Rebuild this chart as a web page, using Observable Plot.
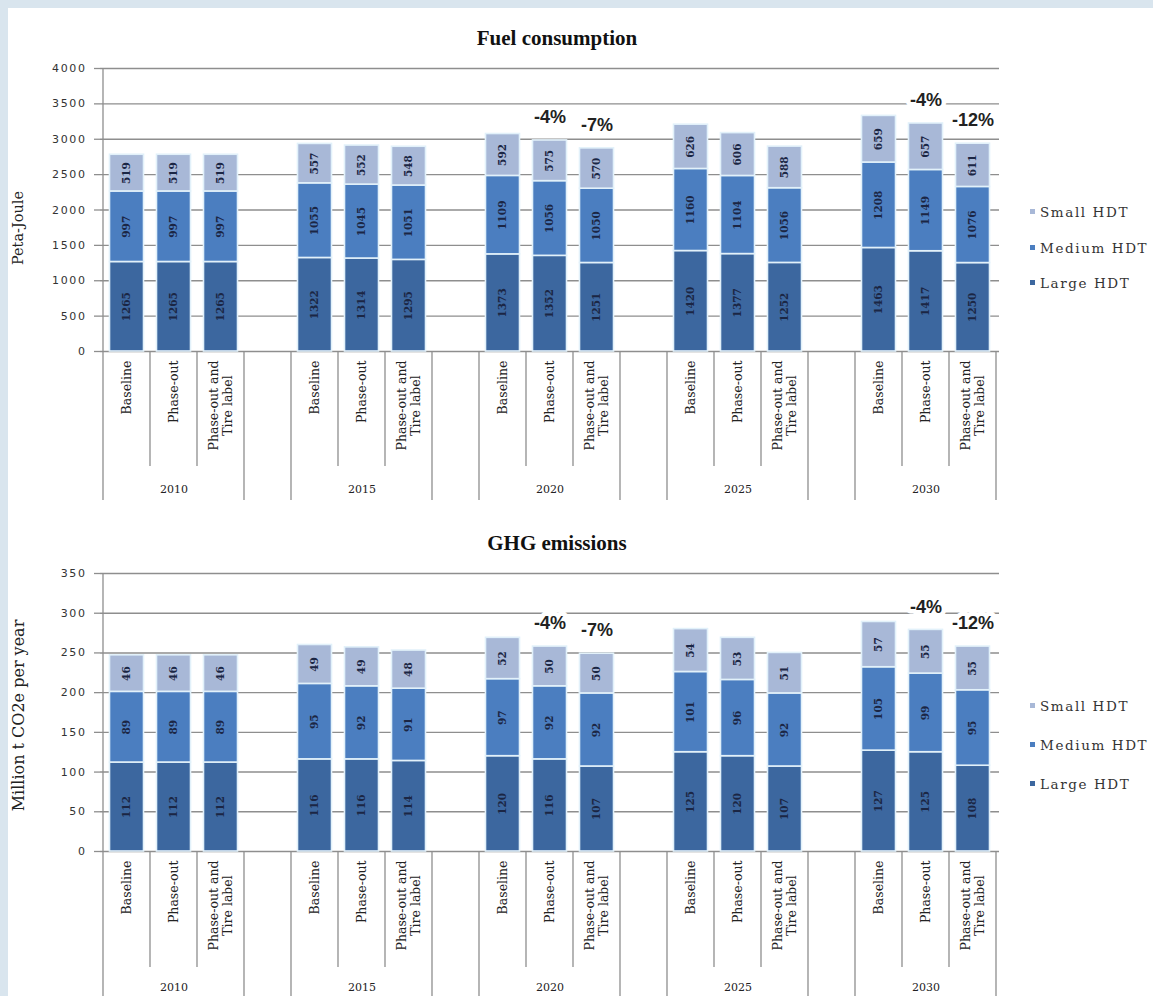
<!DOCTYPE html>
<html>
<head>
<meta charset="utf-8">
<script src="https://cdn.jsdelivr.net/npm/d3@7"></script>
<script src="https://cdn.jsdelivr.net/npm/@observablehq/plot@0.6"></script>
<style>
  html, body { margin: 0; padding: 0; }
  body { width: 1153px; height: 996px; overflow: hidden; position: relative; background: #d9e5ee; }
  #panel { position: absolute; left: 8px; top: 8px; right: 0; bottom: 0; background: #ffffff; }
  .chart { position: absolute; left: 0; }
  .chart svg { overflow: visible; }
  g[aria-label="y-axis tick label"] text { letter-spacing: 1.6px; }
  .legend { position: absolute; left: 1030px; font-family: "DejaVu Serif", serif; font-size: 13.5px; color: #333; letter-spacing: 1.6px; }
  .legend .item { position: absolute; left: 0; white-space: nowrap; height: 16px; line-height: 16px; }
  .legend .sw { display: inline-block; width: 5px; height: 5px; margin-right: 5px; vertical-align: 3px; }
</style>
</head>
<body>
<div id="panel"></div>
<div id="fuel" class="chart" style="top:0px"></div>
<div id="ghg" class="chart" style="top:505px"></div>
<div id="legend1" class="legend" style="top:204px"></div>
<div id="legend2" class="legend" style="top:698px"></div>
<script>
// Categories
const years = ["2010", "2015", "2020", "2025", "2030"];
const scenarios = ["Baseline", "Phase-out", "Phase-out and\nTire label"];
const segments = ["Large HDT", "Medium HDT", "Small HDT"];

// Fuel consumption (Peta-Joule), one value per year x scenario
const fuelLarge  = [1265, 1265, 1265, 1322, 1314, 1295, 1373, 1352, 1251, 1420, 1377, 1252, 1463, 1417, 1250];
const fuelMedium = [997, 997, 997, 1055, 1045, 1051, 1109, 1056, 1050, 1160, 1104, 1056, 1208, 1149, 1076];
const fuelSmall  = [519, 519, 519, 557, 552, 548, 592, 575, 570, 626, 606, 588, 659, 657, 611];

// GHG emissions (Million t CO2e per year)
const ghgLarge  = [112, 112, 112, 116, 116, 114, 120, 116, 107, 125, 120, 107, 127, 125, 108];
const ghgMedium = [89, 89, 89, 95, 92, 91, 97, 92, 92, 101, 96, 92, 105, 99, 95];
const ghgSmall  = [46, 46, 46, 49, 49, 48, 52, 50, 50, 54, 53, 51, 57, 55, 55];

// Axis ticks
const fuelTicks = [0, 500, 1000, 1500, 2000, 2500, 3000, 3500, 4000];
const ghgTicks = [0, 50, 100, 150, 200, 250, 300, 350];

// Change annotations versus the baseline
const changeYears = ["2020", "2020", "2030", "2030"];
const changeScenarios = ["Phase-out", "Phase-out and\nTire label", "Phase-out", "Phase-out and\nTire label"];
const changeLabels = ["-4%", "-7%", "-4%", "-12%"];

// Styling
const colors = ["#3c679f", "#4b7ec0", "#a8b8d7"];
const gridColor = "#8e8e8e";
const labelFont = "DejaVu Serif";
const labelSize = 12.5;
const lineGap = 14;

const keyOf = (yr, sc) => `${yr}|${sc}`;
// slot order along x: three scenarios per year with an empty slot between years
const slots = [];
years.forEach((yr, g) => {
  if (g > 0) slots.push(`gap-${g}`);
  scenarios.forEach(sc => slots.push(keyOf(yr, sc)));
});

function measure(text, font) {
  const ctx = measure.ctx || (measure.ctx = document.createElement("canvas").getContext("2d"));
  ctx.font = font;
  return ctx.measureText(text).width;
}

// vertical separators below the category axis; group edges run longer
function dividers(shortDrop, longDrop) {
  return (index, scales, values, dimensions) => {
    const x = scales.x;
    const bw = x(slots[1]) - x(slots[0]);
    const y0 = dimensions.height - dimensions.marginBottom;
    const g = d3.create("svg:g").attr("stroke", gridColor).attr("stroke-width", 1.3);
    for (let k = 0; k <= slots.length; k++) {
      const px = k < slots.length ? x(slots[k]) : x(slots[k - 1]) + bw;
      const left = slots[k - 1], right = slots[k];
      const isLong = k === 0 || k === slots.length || left.startsWith("gap") || right.startsWith("gap");
      g.append("line")
        .attr("x1", px).attr("x2", px)
        .attr("y1", k === 0 ? dimensions.marginTop : y0)
        .attr("y2", y0 + (isLong ? longDrop : shortDrop));
    }
    return g.node();
  };
}

function chart(cfg) {
  const rows = [];
  years.forEach((yr, g) => scenarios.forEach((sc, s) => {
    const i = g * 3 + s;
    const vals = [cfg.large[i], cfg.medium[i], cfg.small[i]];
    segments.forEach((seg, j) => rows.push({key: keyOf(yr, sc), segment: seg, value: vals[j]}));
  }));
  const totals = d3.rollup(rows, v => d3.sum(v, d => d.value), d => d.key);
  const changes = changeLabels.map((t, i) => {
    const key = keyOf(changeYears[i], changeScenarios[i]);
    return {key, text: t, total: totals.get(key)};
  });

  // category labels, each line centred on the longest line, hanging from the axis
  const catFont = `${labelSize}px "${labelFont}"`;
  const catMarks = [];
  scenarios.forEach(sc => {
    const lines = sc.split("\n");
    const w = d3.max(lines, l => measure(l, catFont));
    lines.forEach((line, j) => {
      catMarks.push(Plot.text(years, {
        x: yr => keyOf(yr, sc), frameAnchor: "bottom", text: () => line,
        rotate: -90, textAnchor: "middle", lineAnchor: "middle", dy: 9 + w / 2, dx: (j - (lines.length - 1) / 2) * lineGap,
        fontFamily: labelFont, fontSize: labelSize, fill: "#222"
      }));
    });
  });

  return Plot.plot({
    width: 1153,
    height: cfg.height,
    marginLeft: 100,
    marginRight: 154,
    marginTop: 68,
    marginBottom: cfg.marginBottom,
    style: {background: "transparent", overflow: "visible"},
    x: {domain: slots, padding: 0, axis: null},
    y: {domain: [0, cfg.ticks[cfg.ticks.length - 1]], axis: null},
    color: {domain: segments, range: colors},
    marks: [
      Plot.ruleY(cfg.ticks, {stroke: gridColor, strokeWidth: 1.4}),
      Plot.axisY({ticks: cfg.ticks, tickSize: 6, tickPadding: 8, stroke: gridColor, strokeWidth: 1.3,
        fill: "#333", fontSize: 11, fontFamily: "DejaVu Sans", label: null, tickFormat: d => String(d)}),
      Plot.barY(rows, {x: "key", y: "value", fill: "segment", stroke: "#e2f1fa", strokeWidth: 1.6,
        insetLeft: 6.5, insetRight: 6.5}),
      Plot.text(rows, Plot.stackY({x: "key", y: "value", z: "segment", text: d => String(d.value),
        rotate: -90, fontFamily: labelFont, fontWeight: "bold", fontSize: 10.5, fill: "#1b2644"})),
      Plot.text(changes, {x: "key", y: "total", text: "text", dy: -23, fontFamily: "Liberation Sans",
        fontWeight: "bold", fontSize: 18, fill: "#222", stroke: "white", strokeWidth: 9}),
      dividers(cfg.shortDrop, cfg.longDrop),
      ...catMarks,
      Plot.text(years, {x: yr => keyOf(yr, scenarios[1]), frameAnchor: "bottom", text: d => d,
        dy: cfg.yearDy, fontFamily: labelFont, fontSize: 11, fill: "#222"}),
      Plot.text([cfg.title], {frameAnchor: "top", lineAnchor: "middle", textAnchor: "middle", dy: -30, dx: 7,
        text: d => d, fontFamily: "Liberation Serif", fontWeight: "bold", fontSize: 21, fill: "#111"}),
      Plot.text([cfg.yLabel], {frameAnchor: "left", textAnchor: "middle", lineAnchor: "middle",
        dx: -82, dy: cfg.yLabelDy, rotate: -90, text: d => d,
        fontFamily: labelFont, fontSize: cfg.yLabelSize, fill: "#222"})
    ]
  });
}

function legend(el, gap) {
  const root = d3.select(el);
  [2, 1, 0].forEach((j, r) => {
    const item = root.append("div").attr("class", "item").style("top", `${r * gap}px`);
    item.append("span").attr("class", "sw").style("background", colors[j]);
    item.append("span").text(segments[j]);
  });
}

document.getElementById("fuel").append(chart({
  title: "Fuel consumption", yLabel: "Peta-Joule", yLabelSize: 14.5,
  large: fuelLarge, medium: fuelMedium, small: fuelSmall, ticks: fuelTicks,
  height: 505, marginBottom: 154, shortDrop: 115, longDrop: 149, yearDy: 141, yLabelDy: 18
}));
document.getElementById("ghg").append(chart({
  title: "GHG emissions", yLabel: "Million t CO2e per year", yLabelSize: 16,
  large: ghgLarge, medium: ghgMedium, small: ghgSmall, ticks: ghgTicks,
  height: 491, marginBottom: 145, shortDrop: 116, longDrop: 160, yearDy: 139, yLabelDy: 3
}));
legend(document.getElementById("legend1"), 35.5);
legend(document.getElementById("legend2"), 39);
</script>
</body>
</html>
